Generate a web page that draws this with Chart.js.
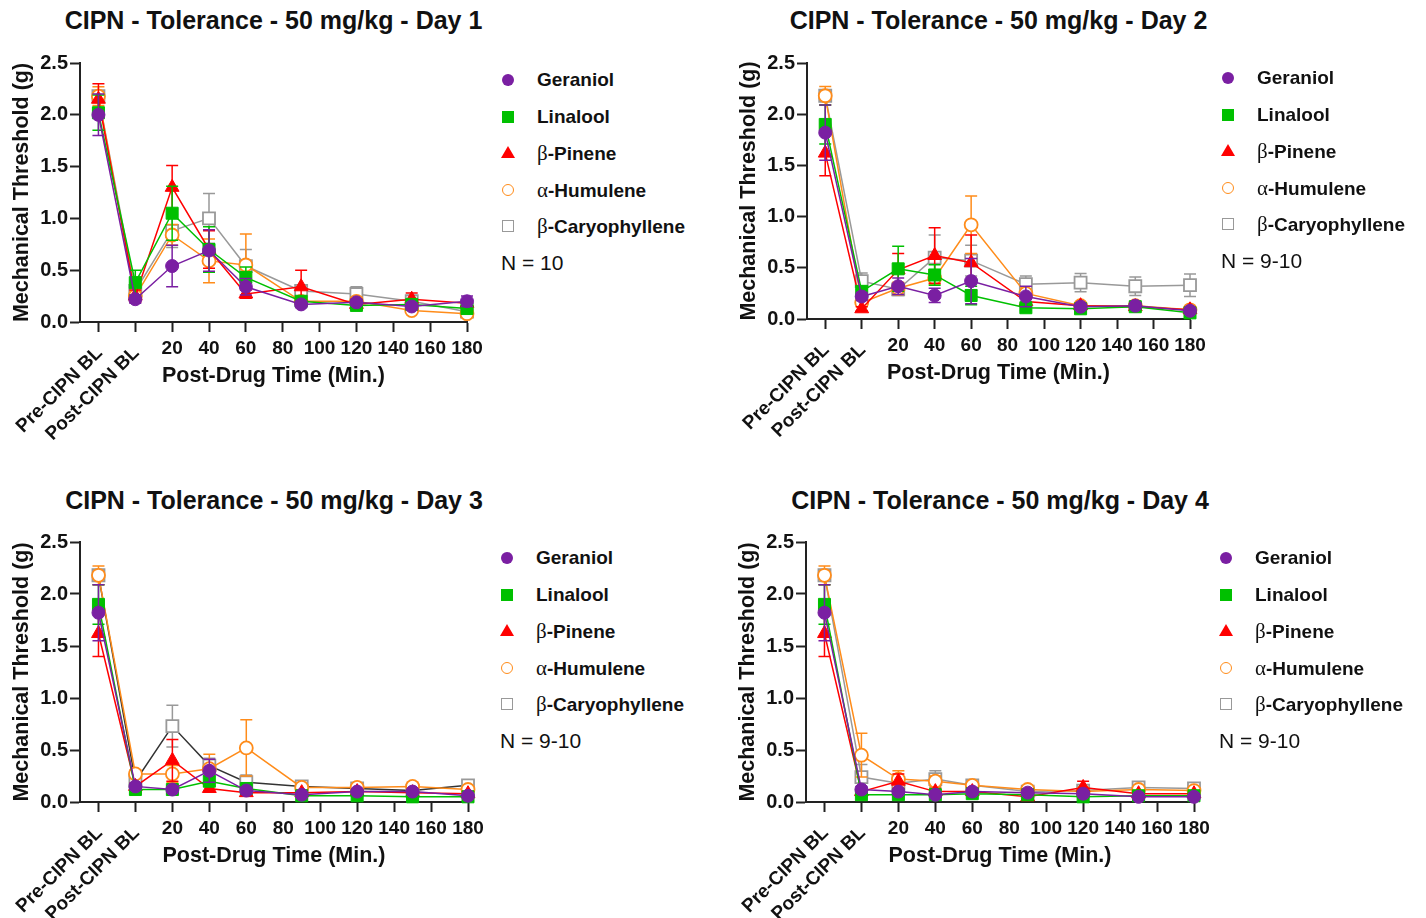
<!DOCTYPE html>
<html>
<head>
<meta charset="utf-8">
<script src="https://cdn.jsdelivr.net/npm/chart.js@4.4.1/dist/chart.umd.min.js"></script>
<style>
  body { margin: 0; background: #fff; width: 1426px; height: 918px; position: relative; overflow: hidden;
         font-family: "Liberation Sans", Arial, sans-serif; color: #111; }
  canvas { position: absolute; }
  .title { position: absolute; width: 560px; text-align: center; font-weight: bold; font-size: 25px; line-height: 28px; }
  .row { position: absolute; white-space: nowrap; font-size: 19px; font-weight: bold; line-height: 24px; }
  .greek { font-family: "Liberation Serif", serif; font-weight: normal; font-size: 21px; }
  .nlabel { position: absolute; white-space: nowrap; font-size: 21px; line-height: 24px; }
  .mk { position: absolute; box-sizing: border-box; }
</style>
</head>
<body>
<script>
// x positions: Pre-CIPN BL, Post-CIPN BL, then minutes after drug
const xValues = [-20, 0, 20, 40, 60, 90, 120, 150, 180];
const xTickValues = [-20, 0, 20, 40, 60, 80, 100, 120, 140, 160, 180];
const xTickLabels = ['Pre-CIPN BL', 'Post-CIPN BL', '20', '40', '60', '80', '100', '120', '140', '160', '180'];
const seriesNames = ['Geraniol', 'Linalool', 'β-Pinene', 'α-Humulene', 'β-Caryophyllene'];
const nLabels = ['N = 10', 'N = 9-10', 'N = 9-10', 'N = 9-10'];

// Day 1
const d1Geraniol = [2.00, 0.22, 0.54, 0.69, 0.34, 0.17, 0.19, 0.15, 0.20];
const d1GeraniolSem = [0.20, 0.04, 0.20, 0.20, 0.08, 0.03, 0.03, 0.03, 0.05];
const d1Linalool = [2.02, 0.38, 1.05, 0.70, 0.43, 0.20, 0.16, 0.17, 0.13];
const d1LinaloolSem = [0.17, 0.12, 0.26, 0.22, 0.10, 0.04, 0.03, 0.03, 0.03];
const d1Pinene = [2.15, 0.25, 1.30, 0.70, 0.27, 0.34, 0.17, 0.22, 0.18];
const d1PineneSem = [0.15, 0.06, 0.21, 0.18, 0.04, 0.16, 0.05, 0.06, 0.03];
const d1Humulene = [2.18, 0.25, 0.84, 0.59, 0.55, 0.20, 0.20, 0.11, 0.08];
const d1HumuleneSem = [0.09, 0.05, 0.10, 0.21, 0.30, 0.03, 0.04, 0.02, 0.02];
const d1Caryo = [2.18, 0.30, 0.88, 1.00, 0.54, 0.30, 0.27, 0.20, 0.10];
const d1CaryoSem = [0.05, 0.08, 0.16, 0.24, 0.16, 0.04, 0.07, 0.04, 0.03];

// Day 2
const d2Geraniol = [1.82, 0.22, 0.32, 0.23, 0.37, 0.22, 0.12, 0.13, 0.08];
const d2GeraniolSem = [0.27, 0.04, 0.08, 0.07, 0.22, 0.10, 0.03, 0.03, 0.02];
const d2Linalool = [1.90, 0.27, 0.49, 0.43, 0.23, 0.11, 0.10, 0.12, 0.06];
const d2LinaloolSem = [0.19, 0.05, 0.22, 0.10, 0.09, 0.03, 0.02, 0.03, 0.02];
const d2Pinene = [1.62, 0.10, 0.48, 0.62, 0.55, 0.17, 0.13, 0.12, 0.09];
const d2PineneSem = [0.22, 0.02, 0.16, 0.27, 0.27, 0.04, 0.02, 0.03, 0.02];
const d2Humulene = [2.18, 0.16, 0.30, 0.40, 0.92, 0.25, 0.13, 0.13, 0.09];
const d2HumuleneSem = [0.09, 0.03, 0.06, 0.06, 0.28, 0.04, 0.02, 0.02, 0.02];
const d2Caryo = [2.18, 0.37, 0.29, 0.60, 0.57, 0.34, 0.355, 0.32, 0.33];
const d2CaryoSem = [0.05, 0.08, 0.06, 0.22, 0.15, 0.08, 0.09, 0.09, 0.11];

// Day 3
const d3Geraniol = [1.82, 0.15, 0.12, 0.30, 0.11, 0.07, 0.10, 0.10, 0.06];
const d3GeraniolSem = [0.27, 0.03, 0.02, 0.11, 0.03, 0.02, 0.02, 0.02, 0.02];
const d3Linalool = [1.90, 0.12, 0.12, 0.20, 0.13, 0.06, 0.06, 0.05, 0.05];
const d3LinaloolSem = [0.19, 0.02, 0.02, 0.05, 0.03, 0.02, 0.01, 0.01, 0.01];
const d3Pinene = [1.62, 0.15, 0.40, 0.13, 0.09, 0.09, 0.10, 0.09, 0.08];
const d3PineneSem = [0.22, 0.03, 0.20, 0.03, 0.02, 0.02, 0.02, 0.02, 0.02];
const d3Humulene = [2.18, 0.27, 0.27, 0.32, 0.52, 0.14, 0.14, 0.15, 0.12];
const d3HumuleneSem = [0.09, 0.04, 0.08, 0.14, 0.27, 0.03, 0.03, 0.04, 0.03];
const d3Caryo = [2.18, 0.20, 0.73, 0.35, 0.19, 0.15, 0.13, 0.11, 0.16];
const d3CaryoSem = [0.05, 0.05, 0.20, 0.07, 0.07, 0.03, 0.03, 0.03, 0.03];

// Day 4
const d4Geraniol = [1.82, 0.12, 0.10, 0.07, 0.10, 0.09, 0.08, 0.05, 0.05];
const d4GeraniolSem = [0.27, 0.03, 0.02, 0.02, 0.02, 0.02, 0.02, 0.01, 0.01];
const d4Linalool = [1.90, 0.07, 0.07, 0.07, 0.08, 0.07, 0.05, 0.06, 0.06];
const d4LinaloolSem = [0.19, 0.02, 0.02, 0.02, 0.02, 0.02, 0.01, 0.01, 0.01];
const d4Pinene = [1.62, 0.10, 0.20, 0.10, 0.10, 0.05, 0.14, 0.08, 0.08];
const d4PineneSem = [0.22, 0.02, 0.07, 0.03, 0.02, 0.02, 0.06, 0.02, 0.02];
const d4Humulene = [2.18, 0.45, 0.22, 0.20, 0.16, 0.12, 0.10, 0.12, 0.11];
const d4HumuleneSem = [0.09, 0.21, 0.08, 0.05, 0.03, 0.02, 0.02, 0.02, 0.02];
const d4Caryo = [2.18, 0.24, 0.18, 0.22, 0.16, 0.10, 0.11, 0.14, 0.13];
const d4CaryoSem = [0.05, 0.12, 0.04, 0.08, 0.03, 0.02, 0.02, 0.03, 0.03];

const dayMeans = [
  [d1Geraniol, d1Linalool, d1Pinene, d1Humulene, d1Caryo],
  [d2Geraniol, d2Linalool, d2Pinene, d2Humulene, d2Caryo],
  [d3Geraniol, d3Linalool, d3Pinene, d3Humulene, d3Caryo],
  [d4Geraniol, d4Linalool, d4Pinene, d4Humulene, d4Caryo]
];
const daySems = [
  [d1GeraniolSem, d1LinaloolSem, d1PineneSem, d1HumuleneSem, d1CaryoSem],
  [d2GeraniolSem, d2LinaloolSem, d2PineneSem, d2HumuleneSem, d2CaryoSem],
  [d3GeraniolSem, d3LinaloolSem, d3PineneSem, d3HumuleneSem, d3CaryoSem],
  [d4GeraniolSem, d4LinaloolSem, d4PineneSem, d4HumuleneSem, d4CaryoSem]
];

const FONT = '"Liberation Sans", Arial, sans-serif';
const colors = ['#7a1fa2', '#00c000', '#ff0000', '#ff8c1a', '#999999'];
const pointStyles = ['circle', 'rect', 'triangle', 'circle', 'rect'];
const pointRadius = [6.5, 8.5, 8, 6.5, 8.5];
const filled = [true, true, true, false, false];

// panel layout (page pixels)
const panels = [
  { left: 0,   top: 40,  chartLeft: 80,  chartRight: 467,  legX: 508,  legTop: 80 },
  { left: 727, top: 40,  chartLeft: 807, chartRight: 1190, legX: 1228, legTop: 78 },
  { left: 0,   top: 519, chartLeft: 80,  chartRight: 468,  legX: 507,  legTop: 558 },
  { left: 726, top: 519, chartLeft: 806, chartRight: 1194, legX: 1226, legTop: 558 }
];
const chartTops = [63, 63, 542, 542];
const chartBottoms = [322, 319, 802, 802];

// SEM error bars drawn under each dataset's markers
const errorBars = {
  id: 'errorBars',
  beforeDatasetDraw(chart, args) {
    const ds = chart.data.datasets[args.index];
    if (!ds.sem) return;
    const { ctx, scales: { x, y } } = chart;
    ctx.save();
    ctx.strokeStyle = ds.barColor;
    ctx.lineWidth = 1.5;
    ds.data.forEach((p, j) => {
      const px = x.getPixelForValue(p.x);
      const top = y.getPixelForValue(p.y + ds.sem[j]);
      const bot = y.getPixelForValue(Math.max(0, p.y - ds.sem[j]));
      ctx.beginPath();
      ctx.moveTo(px, top); ctx.lineTo(px, bot);
      ctx.moveTo(px - 6, top); ctx.lineTo(px + 6, top);
      ctx.moveTo(px - 6, bot); ctx.lineTo(px + 6, bot);
      ctx.stroke();
    });
    ctx.restore();
  }
};

// x tick labels: baselines rotated, minutes horizontal
const xLabels = {
  id: 'xLabels',
  afterDraw(chart) {
    const { ctx, scales: { x } } = chart;
    const y0 = x.top;
    ctx.save();
    ctx.fillStyle = '#111';
    ctx.font = 'bold 19px ' + FONT;
    xTickValues.forEach((v, i) => {
      const px = x.getPixelForValue(v);
      if (v <= 0) {
        ctx.save();
        ctx.translate(px + 1, y0 + 28);
        ctx.rotate(-Math.PI / 4);
        ctx.textAlign = 'right';
        ctx.textBaseline = 'middle';
        ctx.fillText(xTickLabels[i], 0, 0);
        ctx.restore();
      } else {
        ctx.textAlign = 'center';
        ctx.textBaseline = 'middle';
        ctx.fillText(xTickLabels[i], px, y0 + 27);
      }
    });
    ctx.restore();
  }
};

function makePanel(d) {
  const p = panels[d];
  const W = 500, H = 400;
  const cv = document.createElement('canvas');
  cv.width = W; cv.height = H;
  cv.style.left = p.left + 'px'; cv.style.top = p.top + 'px';
  cv.style.width = W + 'px'; cv.style.height = H + 'px';
  document.body.appendChild(cv);

  const padTop = chartTops[d] - p.top;
  const padRight = p.left + W - p.chartRight;
  const xBottom = chartBottoms[d] + 67;
  const padBottom = p.top + H - xBottom;
  const yWidth = p.chartLeft - p.left;

  const datasets = seriesNames.map((name, i) => {
    const lineColor = (i === 4 && d === 2) ? '#333333' : colors[i];
    return {
      label: name,
      data: xValues.map((x, j) => ({ x: x, y: dayMeans[d][i][j] })),
      sem: daySems[d][i],
      barColor: colors[i],
      borderColor: lineColor,
      borderWidth: 1.5,
      pointStyle: pointStyles[i],
      pointRadius: pointRadius[i],
      pointBorderColor: colors[i],
      pointBackgroundColor: filled[i] ? colors[i] : '#ffffff',
      pointBorderWidth: filled[i] ? 1 : 1.8,
      tension: 0,
      clip: false
    };
  });

  new Chart(cv, {
    type: 'line',
    data: { datasets: datasets },
    options: {
      responsive: false,
      animation: false,
      events: [],
      layout: { padding: { left: 0, right: padRight, top: padTop, bottom: padBottom } },
      plugins: { legend: { display: false }, tooltip: { enabled: false } },
      scales: {
        x: {
          type: 'linear',
          min: -30, max: 180,
          afterBuildTicks: s => { s.ticks = xTickValues.map(v => ({ value: v })); },
          afterFit: s => { s.height = 67; },
          ticks: { autoSkip: false, maxRotation: 0, callback: () => '' },
          grid: { drawOnChartArea: false, drawTicks: true, tickLength: 10, tickColor: '#222', tickWidth: 2 },
          border: { color: '#222', width: 2 },
          title: { display: true, text: 'Post-Drug Time (Min.)', color: '#111', padding: 0,
                   font: { family: FONT, size: 21.5, weight: 'bold' } }
        },
        y: {
          min: 0, max: 2.5,
          afterFit: s => { s.width = yWidth; },
          ticks: { stepSize: 0.5, padding: 2, color: '#111', callback: v => v.toFixed(1),
                   font: { family: FONT, size: 20, weight: 'bold' } },
          grid: { drawOnChartArea: false, drawTicks: true, tickLength: 10, tickColor: '#222', tickWidth: 2 },
          border: { color: '#222', width: 2 },
          title: { display: true, text: 'Mechanical Threshold (g)', color: '#111', padding: { top: 9, bottom: 0 },
                   font: { family: FONT, size: 21.5, weight: 'bold' } }
        }
      }
    },
    plugins: [errorBars, xLabels]
  });

  // title
  const t = document.createElement('div');
  t.className = 'title';
  t.textContent = 'CIPN - Tolerance - 50 mg/kg - Day ' + (d + 1);
  t.style.left = ((p.chartLeft + p.chartRight) / 2 - 280) + 'px';
  t.style.top = (d < 2 ? 6 : 486) + 'px';
  document.body.appendChild(t);

  // legend
  seriesNames.forEach((name, i) => {
    const cy = p.legTop + i * 36.5;
    const m = document.createElement('div');
    m.className = 'mk';
    if (i === 2) {
      m.style.width = '0px'; m.style.height = '0px';
      m.style.borderLeft = '7px solid transparent';
      m.style.borderRight = '7px solid transparent';
      m.style.borderBottom = '12px solid ' + colors[i];
      m.style.left = (p.legX - 7) + 'px'; m.style.top = (cy - 7) + 'px';
    } else {
      const s = 12;
      m.style.width = s + 'px'; m.style.height = s + 'px';
      m.style.left = (p.legX - s / 2) + 'px'; m.style.top = (cy - s / 2) + 'px';
      if (filled[i]) m.style.background = colors[i];
      else { m.style.background = '#fff'; m.style.border = '1.8px solid ' + colors[i]; }
      if (pointStyles[i] === 'circle') m.style.borderRadius = '50%';
    }
    document.body.appendChild(m);

    const r = document.createElement('div');
    r.className = 'row';
    r.style.left = (p.legX + 29) + 'px';
    r.style.top = (cy - 12) + 'px';
    const g = name.charAt(0);
    if (g === 'β' || g === 'α') {
      r.innerHTML = '<span class="greek">' + g + '</span>' + name.slice(1);
    } else {
      r.textContent = name;
    }
    document.body.appendChild(r);
  });
  const n = document.createElement('div');
  n.className = 'nlabel';
  n.textContent = nLabels[d];
  n.style.left = (p.legX - 7) + 'px';
  n.style.top = (p.legTop + 5 * 36.5 - 12) + 'px';
  document.body.appendChild(n);
}

for (let d = 0; d < 4; d++) makePanel(d);
</script>
</body>
</html>
